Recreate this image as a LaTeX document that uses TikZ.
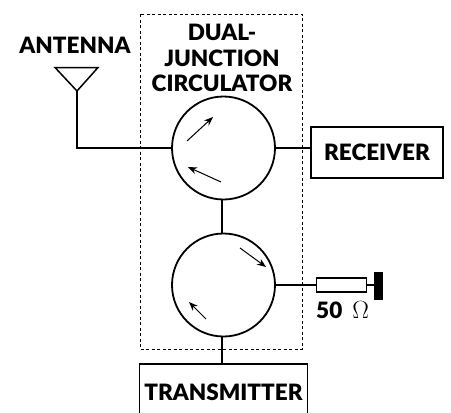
\documentclass[tikz,border=0pt]{standalone}
\usepackage{fontspec}
\setmainfont{Lato}[BoldFont=Lato Black]
\usepackage{xcolor}
\usepackage{tikz}
\usetikzlibrary{positioning,calc,arrows.meta}

\tikzset{
    label text/.style={font=\fontsize{22.5}{25.5}\selectfont\bfseries, align=center, inner sep=0pt},
    junction/.style={draw, circle, line width=1.8pt, minimum size=103pt, inner sep=0pt},
    unit box/.style={draw, line width=1.8pt, label text},
    wire/.style={line width=1.8pt},
    flow/.style={line width=1pt, -{Stealth[length=9pt,width=7pt]}},
}

\begin{document}
\begin{tikzpicture}[x=1pt,y=-1pt]
    \useasboundingbox (0,0) rectangle (451,413);
    \clip (0,0) rectangle (451,413);

    \draw[dashed, line width=1pt, dash pattern=on 3pt off 2.5pt] (140,14) rectangle (302,349);

    \node[label text] (title) at (222,58) {DUAL-\\JUNCTION\\CIRCULATOR};
    \node[label text] (antennalabel) at (75,45) {ANTENNA};

    \node[junction] (upper) at (223.5,148) {};
    \node[junction] (lower) at (223.5,285) {};

    \node[unit box, minimum width=132pt, minimum height=51pt] (receiver) at (377,152.5) {RECEIVER};
    \node[unit box, minimum width=168pt, minimum height=56pt] (transmitter) at (223.5,392) {TRANSMITTER};

    % antenna
    \coordinate (feed) at (77,91);
    \draw[line width=1.5pt, line join=miter] (55,67.5) -- (98,67.5) -- (feed) -- cycle;
    \draw[wire] (feed) |- (upper.west);

    % joins
    \draw[wire] (upper.east) -- (upper.east -| receiver.west);
    \draw[wire] ([xshift=-1.5pt]upper.south) -- ([xshift=-1.5pt]lower.north);
    \draw[wire] ([xshift=-1.5pt]lower.south) -- ([xshift=-1.5pt]lower.south |- transmitter.north);

    % load
    \node[draw, line width=1.5pt, minimum width=50pt, minimum height=14pt, inner sep=0pt] (load) at (341.5,285) {};
    \node[fill=black, minimum width=9pt, minimum height=28pt, inner sep=0pt] (ground) at (378.5,286) {};
    \draw[wire] (lower.east) -- (load.west);
    \draw[wire] (load.east) -- (ground.west |- load.east);
    \node[label text, anchor=north west] (ohms) at (316,301) {50 \kern5pt{\mdseries\fontsize{28}{28}\selectfont$\Omega$}};

    % circulation arrows
    \draw[flow] (187,141) -- (213,117);
    \draw[flow] (221,182) -- (188,167);
    \draw[flow] (240,248) -- (266,267);
    \draw[flow] (206,319) -- (189,302);
\end{tikzpicture}
\end{document}
